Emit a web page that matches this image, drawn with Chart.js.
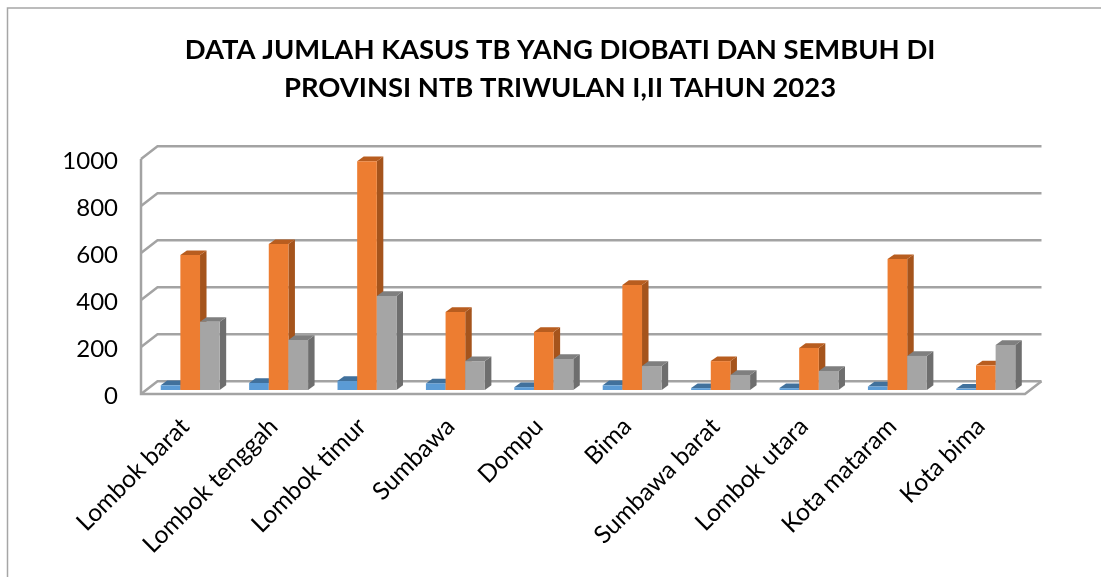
<!DOCTYPE html>
<html>
<head>
<meta charset="utf-8">
<script src="https://cdn.jsdelivr.net/npm/chart.js@4"></script>
<style>html,body{margin:0;padding:0;background:#fff}canvas{display:block}</style>
</head>
<body>
<canvas id="c" width="1101" height="577"></canvas>
<script>
const categories = ["Lombok barat","Lombok tenggah","Lombok timur","Sumbawa","Dompu","Bima","Sumbawa barat","Lombok utara","Kota mataram","Kota bima"];
const seriesBlue = [20,30,38,28,12,20,8,8,15,6];
const seriesOrange = [574,621,974,332,247,447,123,179,557,105];
const seriesGray = [290,213,400,123,132,102,64,81,145,192];
const titleLines = ["DATA JUMLAH KASUS TB YANG DIOBATI DAN SEMBUH DI","PROVINSI NTB TRIWULAN I,II TAHUN 2023"];
const FRONT = {dx:5,dy:-4}, BAR = {dx:6.5,dy:-4.7}, WALL = {dx:16.5,dy:-12.7};
const shades = [
  {top:'#41719c',side:'#3a6a94'},
  {top:'#b85d1f',side:'#a5541c'},
  {top:'#7f7f7f',side:'#6e6e6e'}
];
const frame3d = {
  id:'frame3d',
  afterLayout(chart){ chart.scales.y.left = 30; },
  beforeDatasetsDraw(chart){
    const {ctx,chartArea:a,scales:{y}} = chart;
    ctx.save();
    ctx.strokeStyle='#a6a6a6';ctx.lineWidth=1.5;
    ctx.beginPath();ctx.moveTo(7.5,577);ctx.lineTo(7.5,8);ctx.lineTo(1101,8);ctx.stroke();
    ctx.lineWidth=2.5;ctx.strokeStyle='#a3a3a3';
    y.ticks.forEach(t=>{
      const p=y.getPixelForValue(t.value);
      ctx.beginPath();ctx.moveTo(a.left,p);ctx.lineTo(a.left+WALL.dx,p+WALL.dy);ctx.lineTo(a.right+WALL.dx,p+WALL.dy);ctx.stroke();
    });
    ctx.beginPath();ctx.moveTo(a.left,a.top);ctx.lineTo(a.left,a.bottom);ctx.lineTo(a.right,a.bottom);ctx.lineTo(a.right+WALL.dx,a.bottom+WALL.dy);ctx.stroke();
    ctx.restore();
  },
  beforeDatasetDraw(){ return false; },
  afterDatasetsDraw(chart){
    const {ctx}=chart;
    // paint left-to-right so each bar's front covers its left neighbour's side
    [0,1,2].forEach(i=>{
      const meta=chart.getDatasetMeta(i), s=shades[i];
      ctx.save();
      ctx.translate(FRONT.dx,FRONT.dy);
      meta.data.forEach(el=>{
        const l=el.x-el.width/2, r=el.x+el.width/2, t=el.y, b=el.base;
        ctx.fillStyle=s.side;
        ctx.beginPath();ctx.moveTo(r,t);ctx.lineTo(r+BAR.dx,t+BAR.dy);ctx.lineTo(r+BAR.dx,b+BAR.dy);ctx.lineTo(r,b);ctx.closePath();ctx.fill();
        ctx.fillStyle=s.top;
        ctx.beginPath();ctx.moveTo(l,t);ctx.lineTo(l+BAR.dx,t+BAR.dy);ctx.lineTo(r+BAR.dx,t+BAR.dy);ctx.lineTo(r,t);ctx.closePath();ctx.fill();
      });
      meta.data.forEach(el=>el.draw(ctx));
      ctx.restore();
    });
  }
};
new Chart(document.getElementById('c'),{
  type:'bar',
  data:{labels:categories,datasets:[
    {label:'Seri 1',data:seriesBlue,backgroundColor:'#5b9bd5'},
    {label:'Diobati',data:seriesOrange,backgroundColor:'#ed7d31'},
    {label:'Sembuh',data:seriesGray,backgroundColor:'#a5a5a5'}
  ]},
  plugins:[frame3d],
  options:{
    responsive:false,animation:false,
    layout:{autoPadding:false,padding:{left:95,right:76,top:0,bottom:0}},
    categoryPercentage:0.667,barPercentage:1,
    plugins:{
      legend:{display:false},tooltip:{enabled:false},
      title:{display:true,text:titleLines,color:'#000',
        font:{family:'Lato',size:27.4,weight:'bold',lineHeight:1.4},
        padding:{top:31,bottom:51.3}}
    },
    scales:{
      x:{grid:{display:false},border:{display:false},
        ticks:{autoSkip:false,maxRotation:45,minRotation:45,color:'#000',padding:10,font:{family:'Lato',size:24.5}},
        afterFit(s){s.height=183;}},
      y:{min:0,max:1000,grid:{display:false,drawTicks:false},border:{display:false},
        ticks:{stepSize:200,color:'#000',padding:23,labelOffset:2,font:{family:'Lato',size:24},callback:v=>String(v)},
        afterFit(s){s.width=46;}}
    }
  }
});
</script>
</body>
</html>
